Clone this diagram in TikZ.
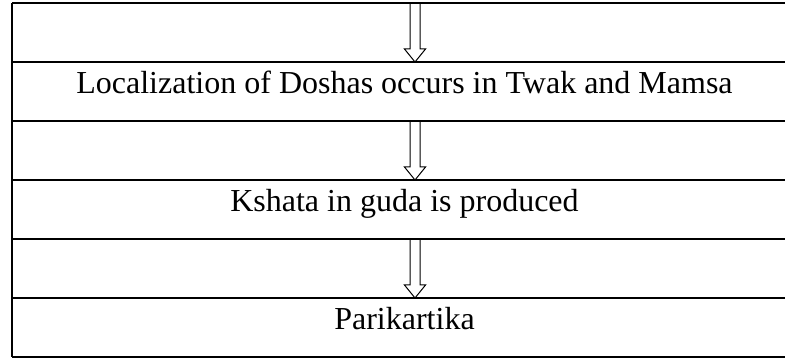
\documentclass[tikz,border=0pt]{standalone}
\usepackage{fontspec}
\setmainfont{Liberation Serif}
\usetikzlibrary{positioning,calc}

\begin{document}
\begin{tikzpicture}[x=1pt,y=1pt,
    row/.style={minimum width=588.75pt, minimum height=44.25pt,
                inner sep=0pt, outer sep=0pt, text height=9.75pt, text depth=6.75pt,
                font=\fontsize{24}{28}\selectfont},
    rule/.style={line width=1.5pt},
    hollow arrow/.style={line width=0.75pt, line join=miter,
      to path={let \p1=(\tikztostart), \p2=(\tikztotarget) in
        (\x1-3.75pt,\y1) -- (\x1-3.75pt,\y2+9.75pt) -- (\x1-7.9pt,\y2+9.75pt)
        -- (\x1,\y2) -- (\x1+7.9pt,\y2+9.75pt) -- (\x1+3.75pt,\y2+9.75pt)
        -- (\x1+3.75pt,\y1)}}]

  \path[use as bounding box, clip] (0,0) rectangle (588.75,269.25);

  %rows%
  \node[row, anchor=north west] (r1) at (9,267) {};
  \node[row, below=0pt of r1] (r2) {Localization of Doshas occurs in Twak and Mamsa};
  \node[row, below=0pt of r2] (r3) {};
  \node[row, below=0pt of r3] (r4) {Kshata in guda is produced};
  \node[row, below=0pt of r4] (r5) {};
  \node[row, below=0pt of r5] (r6) {Parikartika};

  %table lines%
  \foreach \r in {r1,r2,r3,r4,r5,r6}
    \draw[rule] (\r.north west) -- (\r.north east);
  \draw[rule] (r6.south west) -- (r6.south east);
  \draw[rule] (r1.north west) -- (r6.south west);

  %arrows%
  \coordinate (ax) at (311.25,0);
  \foreach \r in {r1,r3,r5}
    \draw[hollow arrow] (\r.north -| ax) to (\r.south -| ax);
\end{tikzpicture}
\end{document}
